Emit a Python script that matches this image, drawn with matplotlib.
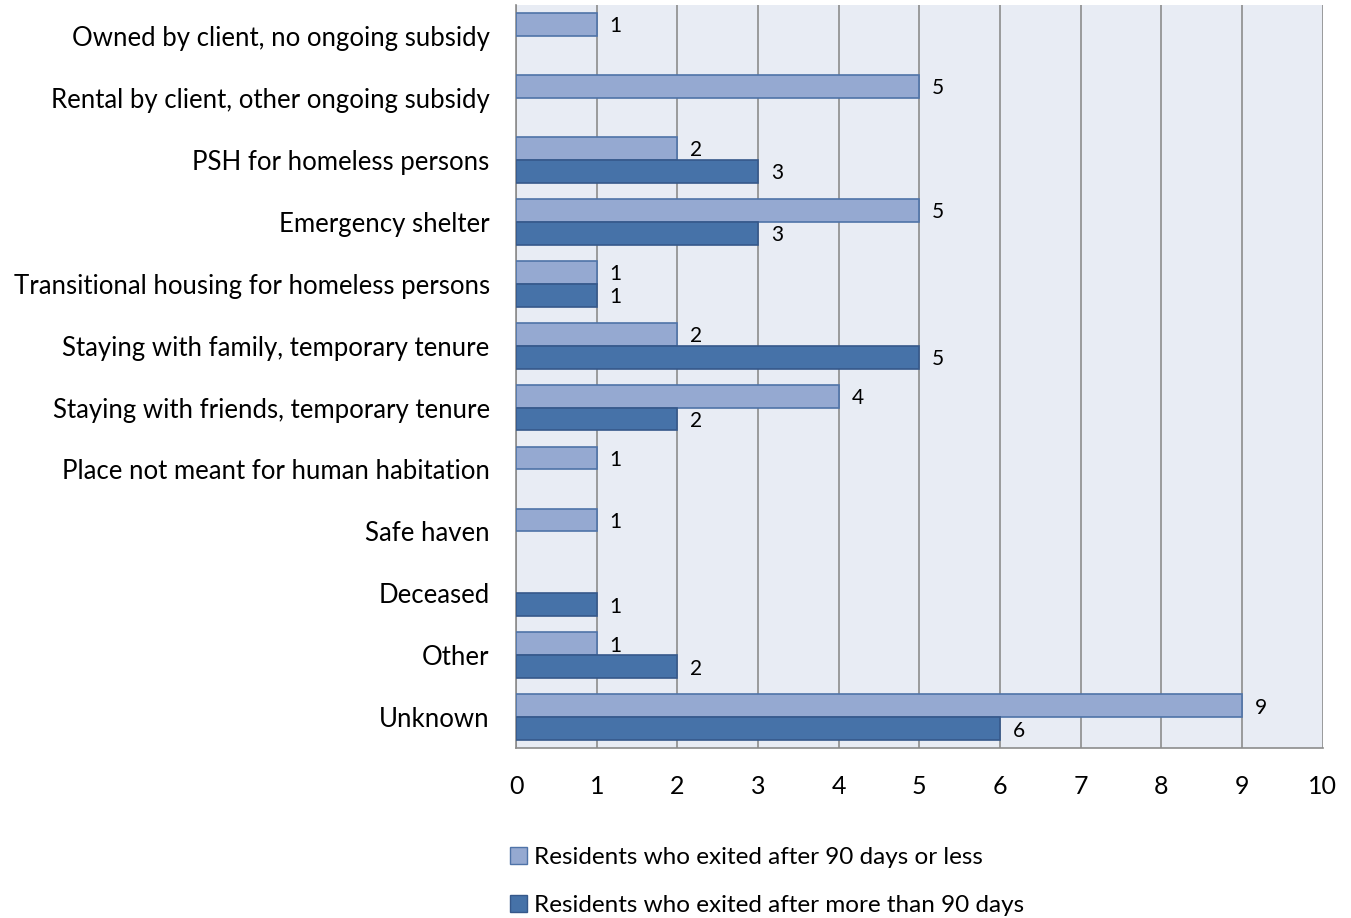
import numpy as np
import matplotlib.pyplot as plt
from matplotlib.patches import Patch

plt.rcParams['font.family'] = ['Lato', 'DejaVu Sans']

categories = [
    'Owned by client, no ongoing subsidy',
    'Rental by client, other ongoing subsidy',
    'PSH for homeless persons',
    'Emergency shelter',
    'Transitional housing for homeless persons',
    'Staying with family, temporary tenure',
    'Staying with friends, temporary tenure',
    'Place not meant for human habitation',
    'Safe haven',
    'Deceased',
    'Other',
    'Unknown',
]
short_stay = [1, 5, 2, 5, 1, 2, 4, 1, 1, None, 1, 9]
long_stay = [None, None, 3, 3, 1, 5, 2, None, None, 1, 2, 6]
legend_labels = ['Residents who exited after 90 days or less',
                 'Residents who exited after more than 90 days']

light = '#95A9D1'
light_edge = '#4F73A8'
dark = '#4672A8'
dark_edge = '#36588A'

fig = plt.figure(figsize=(13.51, 9.18), dpi=100)
ax = fig.add_axes([0.382, 0.185, 0.597, 0.8095])
ax.set_facecolor('#E8ECF4')

y = np.arange(len(categories))
h = 0.37
for i in range(len(categories)):
    if short_stay[i] is not None:
        ax.barh(y[i] - h / 2, short_stay[i], height=h, color=light,
                edgecolor=light_edge, linewidth=1.2, zorder=3)
        ax.text(short_stay[i] + 0.16, y[i] - h / 2 + 0.03, str(short_stay[i]),
                va='center', ha='left', fontsize=15)
    if long_stay[i] is not None:
        ax.barh(y[i] + h / 2, long_stay[i], height=h, color=dark,
                edgecolor=dark_edge, linewidth=1.2, zorder=3)
        ax.text(long_stay[i] + 0.16, y[i] + h / 2 + 0.03, str(long_stay[i]),
                va='center', ha='left', fontsize=15)

ax.set_ylim(len(categories) - 0.5, -0.5)
ax.set_xlim(0, 10)
ax.set_xticks(range(11))
ax.set_yticks(y)
ax.set_yticklabels(categories, fontsize=18.5)
ax.tick_params(axis='x', labelsize=18, length=0, pad=19)
ax.tick_params(axis='y', length=0, pad=19)
ax.xaxis.grid(True, color='#8C8C8C', linewidth=1.2, zorder=1)
ax.set_axisbelow(True)
for side in ['top', 'right']:
    ax.spines[side].set_visible(False)
for side in ['left', 'bottom']:
    ax.spines[side].set_color('#8C8C8C')
    ax.spines[side].set_linewidth(1.2)

handles = [Patch(facecolor=light, edgecolor=light_edge),
           Patch(facecolor=dark, edgecolor=dark_edge)]
fig.legend(handles, legend_labels, loc='upper left',
           bbox_to_anchor=(0.370, 0.088), frameon=False, fontsize=17.5,
           handlelength=0.7, handleheight=0.7, handletextpad=0.3,
           labelspacing=1.1, borderaxespad=0)

fig.savefig('out.png', dpi=100)
